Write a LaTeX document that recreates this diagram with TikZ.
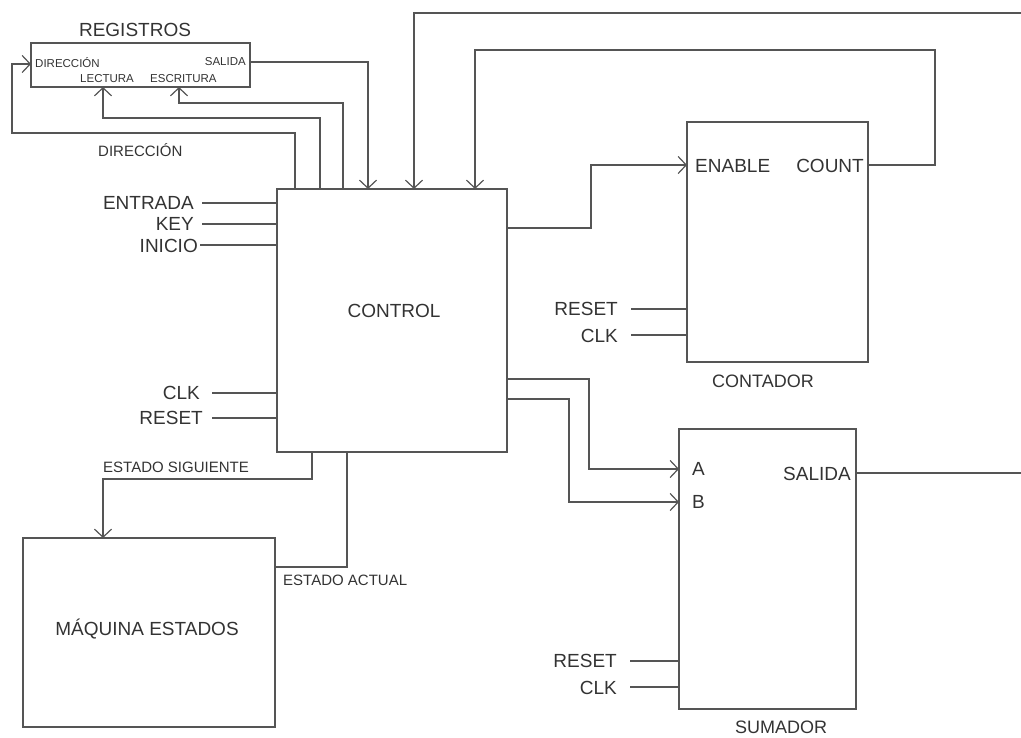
\documentclass[tikz,border=0pt]{standalone}
\usepackage{fontspec}
\setmainfont{Liberation Sans}
\usetikzlibrary{arrows.meta}
\definecolor{ln}{HTML}{555555}
\definecolor{tx}{HTML}{333333}
\begin{document}
\begin{tikzpicture}[x=1pt,y=-1pt,
  blk/.style={draw=ln,line width=1.3pt,fill=none,inner sep=0pt},
  wire/.style={draw=ln,line width=1.3pt},
  arr/.style={wire,-{Straight Barb[length=8pt,width=17pt,line width=1.2pt]}},
  big/.style={text=tx,inner sep=0pt,font=\fontsize{19}{19}\selectfont},
  mid/.style={text=tx,inner sep=0pt,font=\fontsize{15}{15}\selectfont},
  sml/.style={text=tx,inner sep=0pt,font=\fontsize{11.5}{11.5}\selectfont}]
\useasboundingbox (0,0) rectangle (1021,738);
% blocks
\draw[blk] (31,43) rectangle (250,87);
\draw[blk] (277,189) rectangle (507,452);
\draw[blk] (687,122) rectangle (868,362);
\draw[blk] (679,429) rectangle (856,709);
\draw[blk] (23,538) rectangle (275,727);
% block names
\node[big] (lreg) at (135,30) {REGISTROS};
\node[big] (lctl) at (394,311) {CONTROL};
\node[big,font=\fontsize{18}{18}\selectfont] (lcnt) at (763,381) {CONTADOR};
\node[big,font=\fontsize{18}{18}\selectfont] (lsum) at (781,727) {SUMADOR};
\node[big] (lmaq) at (147,629) {MÁQUINA ESTADOS};
% ports (coordinates)
\coordinate (regDir) at (31,64);
\coordinate (regLec) at (103,87);
\coordinate (regEsc) at (179,87);
\coordinate (regSal) at (250,62);
\coordinate (cntEn) at (687,165);
\coordinate (cntCount) at (868,165);
\coordinate (sumA) at (679,469);
\coordinate (sumB) at (679,502);
\coordinate (sumSal) at (856,473);
\coordinate (maqTop) at (103,538);
\coordinate (maqR) at (275,567);
\coordinate (offTop) at (1021,13);
\coordinate (offSal) at (1021,473);
% register labels
\node[sml,anchor=west] (tdir) at (35,63) {DIRECCIÓN};
\node[sml,anchor=east] (tsal) at (246,62) {SALIDA};
\node[sml,anchor=west] (tlec) at (80,79) {LECTURA};
\node[sml,anchor=west] (tesc) at (150,79) {ESCRITURA};
% counter / adder labels
\node[big,anchor=west] (ten) at (695,166) {ENABLE};
\node[big,anchor=east] (tcnt) at (864,166) {COUNT};
\node[big,anchor=west] (ta) at (692,469) {A};
\node[big,anchor=west] (tb) at (692,502) {B};
\node[big,anchor=east] (tsal2) at (851,474) {SALIDA};
% input labels
\node[big,anchor=east] (ient) at (194,203) {ENTRADA};
\node[big,anchor=east] (ikey) at (194,224) {KEY};
\node[big,anchor=east] (iini) at (198,246) {INICIO};
\node[big,anchor=east] (iclk) at (200,393) {CLK};
\node[big,anchor=east] (irst) at (203,418) {RESET};
\node[big,anchor=east] (crst) at (618,309) {RESET};
\node[big,anchor=east] (cclk) at (618,336) {CLK};
\node[big,anchor=east] (srst) at (617,661) {RESET};
\node[big,anchor=east] (sclk) at (617,688) {CLK};
% wire labels
\node[mid,anchor=west] (wdir) at (98,150) {DIRECCIÓN};
\node[mid,anchor=west] (wsig) at (103,467) {ESTADO SIGUIENTE};
\node[mid,anchor=west] (wact) at (283,580) {ESTADO ACTUAL};
% inputs to control
\draw[wire] (ient.east)++(8,0) -- (277,203);
\draw[wire] (ikey.east)++(8,0) -- (277,224);
\draw[wire] (200,245) -- (277,245);
\draw[wire] (212,393) -- (277,393);
\draw[wire] (212,418) -- (277,418);
\draw[wire] (631,309) -- (687,309);
\draw[wire] (631,335) -- (687,335);
\draw[wire] (630,661) -- (679,661);
\draw[wire] (630,687) -- (679,687);
% control <-> registers
\draw[arr] (295,189) |- (12,133) |- (regDir);
\draw[arr] (320,189) |- (103,118) -- (regLec);
\draw[arr] (343,189) |- (179,103) -- (regEsc);
\draw[arr] (regSal) -| (368,189);
% top feedbacks
\draw[arr] (offTop) -| (414,189);
\draw[arr] (cntCount) -| (935,50) -| (475,189);
% control -> counter
\draw[arr] (507,228) -| (591,165) -- (cntEn);
% control -> adder
\draw[arr] (507,379) -| (589,469) -- (sumA);
\draw[arr] (507,399) -| (569,502) -- (sumB);
\draw[wire] (sumSal) -- (offSal);
% control <-> state machine
\draw[arr] (312,452) |- (103,479) -- (maqTop);
\draw[wire] (347,452) |- (maqR);
\end{tikzpicture}
\end{document}
